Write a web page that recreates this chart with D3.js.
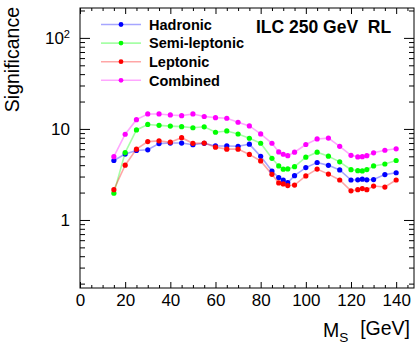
<!DOCTYPE html>
<html>
<head>
<meta charset="utf-8">
<script src="https://cdn.jsdelivr.net/npm/d3@7"></script>
<style>
    body { margin: 0; background: #fff; }
    text { font-family: "Liberation Sans", Arial, Helvetica, sans-serif; fill: #000; }
    .axis path, .axis line { stroke: #000; stroke-width: 1; }
    .axis text { font-size: 17px; }
    .legend-text { font-size: 14.5px; font-weight: bold; }
    .title-text { font-size: 17.5px; font-weight: bold; white-space: pre; }
    .axis-title { font-size: 19.5px; }
</style>
</head>
<body>
<div id="chart"></div>
<script>
// scalar mass points (GeV)
var mass = [15, 20, 25, 30, 35, 40, 45, 50, 55, 60, 65, 70, 75, 80, 85, 88, 90, 92, 95,
            100, 105, 110, 115, 120, 123, 125, 127, 130, 135, 140];

var hadronic = [4.5, 5.3, 5.8, 5.9, 6.9, 7.0, 7.0, 6.7, 6.95, 6.5, 6.5, 6.45, 6.8, 5.0, 3.45,
                2.92, 2.75, 2.57, 3.07, 3.76, 4.28, 3.98, 3.55, 2.75, 2.76, 2.81, 2.76, 2.78, 3.15, 3.3];
var semileptonic = [1.97, 5.5, 9.75, 11.2, 10.95, 10.75, 10.6, 10.3, 10.55, 9.2, 9.5, 8.8, 7.9, 6.96, 4.76,
                    3.92, 3.61, 3.64, 3.85, 4.9, 5.55, 5.02, 4.35, 3.57, 3.48, 3.46, 3.58, 3.92, 4.12, 4.5];
var leptonic = [2.15, 4.0, 6.0, 7.26, 7.4, 7.15, 8.02, 6.95, 7.0, 6.3, 6.0, 6.0, 5.25, 4.45, 3.17,
                2.55, 2.49, 2.39, 2.42, 3.05, 3.62, 3.19, 2.75, 2.09, 2.15, 2.21, 2.15, 2.36, 2.3, 2.75];
var combined = [4.96, 8.74, 12.65, 14.6, 14.6, 14.25, 14.0, 14.6, 13.7, 13.3, 13.1, 11.85, 10.79, 8.81, 6.96,
                5.59, 5.27, 5.09, 5.55, 6.75, 7.77, 7.93, 6.45, 5.13, 4.93, 4.96, 5.09, 5.47, 5.83, 6.05];

var seriesNames = ['Hadronic', 'Semi-leptonic', 'Leptonic', 'Combined'];
var seriesColors = ['#0000ff', '#00ff00', '#ff0000', '#ff00ff'];

var xMajor = [0, 20, 40, 60, 80, 100, 120, 140];
var yMajor = [1, 10, 100];

(function() {
    var width = 418,
        height = 349,
        frame = { left: 80, right: 414, top: 8, bottom: 288 },
        xDomain = [0, 147.9],
        yDomain = [0.179, 213];

    var series = [hadronic, semileptonic, leptonic, combined];

    var svg = d3.select('#chart').append('svg')
        .attr('width', width)
        .attr('height', height);

    var x = d3.scaleLinear().domain(xDomain).range([frame.left, frame.right]);
    var y = d3.scaleLog().domain(yDomain).range([frame.bottom, frame.top]);

    // minor tick values
    var xMinor = d3.range(5, 148, 5).filter(function(v) { return v % 20 !== 0; });
    var yMinor = [];
    [0.1, 1, 10, 100].forEach(function(dec) {
        for (var k = 2; k <= 9; k++) {
            var v = dec * k;
            if (v > yDomain[0] && v < yDomain[1]) yMinor.push(v);
        }
    });

    // frame
    svg.append('rect')
        .attr('x', frame.left)
        .attr('y', frame.top)
        .attr('width', frame.right - frame.left)
        .attr('height', frame.bottom - frame.top)
        .attr('fill', 'none')
        .attr('stroke', '#000')
        .attr('stroke-width', 1);

    // bottom axis with labels
    svg.append('g')
        .attr('class', 'axis')
        .attr('transform', 'translate(0,' + frame.bottom + ')')
        .call(d3.axisBottom(x).tickValues(xMajor).tickSizeInner(-6).tickSizeOuter(0).tickPadding(6).tickFormat(d3.format('d')));
    svg.append('g')
        .attr('class', 'axis')
        .attr('transform', 'translate(0,' + frame.bottom + ')')
        .call(d3.axisBottom(x).tickValues(xMinor).tickSizeInner(-3).tickSizeOuter(0).tickFormat(''));

    // top axis, ticks only
    svg.append('g')
        .attr('class', 'axis')
        .attr('transform', 'translate(0,' + frame.top + ')')
        .call(d3.axisTop(x).tickValues(xMajor).tickSizeInner(-6).tickSizeOuter(0).tickFormat(''));
    svg.append('g')
        .attr('class', 'axis')
        .attr('transform', 'translate(0,' + frame.top + ')')
        .call(d3.axisTop(x).tickValues(xMinor).tickSizeInner(-3).tickSizeOuter(0).tickFormat(''));

    // left axis with labels
    var yAxisG = svg.append('g')
        .attr('class', 'axis')
        .attr('transform', 'translate(' + frame.left + ',0)')
        .call(d3.axisLeft(y).tickValues(yMajor).tickSizeInner(-10).tickSizeOuter(0).tickPadding(10)
            .tickFormat(function(d) { return d === 100 ? '10' : d3.format('d')(d); }));
    yAxisG.selectAll('.tick text')
        .filter(function(d) { return d === 100; })
        .append('tspan')
        .attr('dy', '-0.55em')
        .attr('font-size', '0.65em')
        .text('2');
    svg.append('g')
        .attr('class', 'axis')
        .attr('transform', 'translate(' + frame.left + ',0)')
        .call(d3.axisLeft(y).tickValues(yMinor).tickSizeInner(-5).tickSizeOuter(0).tickFormat(''));

    // right axis, ticks only
    svg.append('g')
        .attr('class', 'axis')
        .attr('transform', 'translate(' + frame.right + ',0)')
        .call(d3.axisRight(y).tickValues(yMajor).tickSizeInner(-10).tickSizeOuter(0).tickFormat(''));
    svg.append('g')
        .attr('class', 'axis')
        .attr('transform', 'translate(' + frame.right + ',0)')
        .call(d3.axisRight(y).tickValues(yMinor).tickSizeInner(-5).tickSizeOuter(0).tickFormat(''));

    svg.selectAll('.axis path.domain').remove();

    // graphs
    var line = d3.line()
        .x(function(d) { return x(d[0]); })
        .y(function(d) { return y(d[1]); });

    series.forEach(function(vals, s) {
        var pts = mass.map(function(m, i) { return [m, vals[i]]; });
        var g = svg.append('g');
        g.append('path')
            .attr('d', line(pts))
            .attr('fill', 'none')
            .attr('stroke', seriesColors[s])
            .attr('stroke-opacity', 0.35)
            .attr('stroke-width', 1.6);
        g.selectAll('circle')
            .data(pts)
            .enter().append('circle')
            .attr('cx', function(d) { return x(d[0]); })
            .attr('cy', function(d) { return y(d[1]); })
            .attr('r', 2.6)
            .attr('fill', seriesColors[s]);
    });

    // legend
    var legend = { x1: 101, x2: 141, textX: 149, top: 24.5, step: 18.6 };
    seriesNames.forEach(function(name, s) {
        var ly = legend.top + s * legend.step;
        svg.append('line')
            .attr('x1', legend.x1).attr('x2', legend.x2)
            .attr('y1', ly).attr('y2', ly)
            .attr('stroke', seriesColors[s])
            .attr('stroke-opacity', 0.35)
            .attr('stroke-width', 1.6);
        svg.append('circle')
            .attr('cx', (legend.x1 + legend.x2) / 2)
            .attr('cy', ly)
            .attr('r', 2.4)
            .attr('fill', seriesColors[s]);
        svg.append('text')
            .attr('class', 'legend-text')
            .attr('x', legend.textX)
            .attr('y', ly)
            .attr('dy', '0.36em')
            .text(name);
    });

    // ILC label
    svg.append('text')
        .attr('class', 'title-text')
        .attr('x', 256)
        .attr('y', 33)
        .text('ILC 250 GeV  RL');

    // axis titles
    svg.append('text')
        .attr('class', 'axis-title')
        .attr('text-anchor', 'end')
        .attr('transform', 'translate(19,7) rotate(-90)')
        .text('Significance');

    var xt = svg.append('text')
        .attr('class', 'axis-title')
        .attr('text-anchor', 'end')
        .attr('x', 410)
        .attr('y', 337);
    xt.append('tspan').text('M');
    xt.append('tspan').attr('dy', '0.35em').attr('font-size', '0.7em').text('S');
    xt.append('tspan').attr('dy', '-0.35em').attr('dx', '0.6em').text('[GeV]');
})();
</script>
</body>
</html>
